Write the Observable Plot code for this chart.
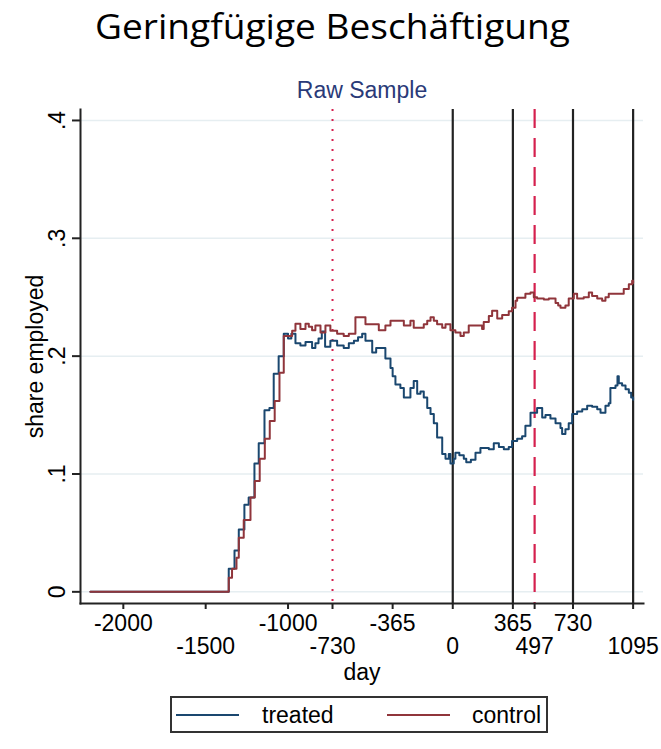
<!DOCTYPE html>
<html>
<head>
<meta charset="utf-8">
<script src="https://cdn.jsdelivr.net/npm/d3@7"></script>
<script src="https://cdn.jsdelivr.net/npm/@observablehq/plot@0.6"></script>
<style>
  body { margin: 0; background: #fff; }
  #wrap { position: relative; width: 661px; height: 749px; overflow: hidden; background: #fff;
          font-family: "Liberation Sans", Arial, sans-serif; }
  #title { position: absolute; left: 0; top: 0; width: 661px; height: 60px; }
  #title span { position: absolute; left: 95px; top: 6px; white-space: nowrap;
                font-family: "Open Sans", Lato, sans-serif; font-size: 34px; line-height: 40px;
                color: #000; transform-origin: 0 0; }
  #chart { position: absolute; left: 0; top: 60px; }
  #legend { position: absolute; left: 170px; top: 696px; width: 378px; height: 37px;
            box-sizing: border-box; border: 2px solid #333; background: #fff; }
  #legend .sw { position: absolute; top: 16px; height: 2px; width: 63px; }
  #legend .lb { position: absolute; top: 2px; font-size: 23px; line-height: 30px; color: #000; }
</style>
</head>
<body>
<div id="wrap">
  <div id="title"><span id="titleText"></span></div>
  <div id="chart"></div>
  <div id="legend"></div>
</div>
<script>
// ---------- data ----------
const titleText = "Geringfügige Beschäftigung";
const subtitleText = "Raw Sample";
const xLabel = "day";
const yLabel = "share employed";
const seriesNames = ["treated", "control"];
const seriesColors = ["#1a476f", "#90353b"];

const yTicks = [0, 0.1, 0.2, 0.3, 0.4];
const yTickLabels = ["0", ".1", ".2", ".3", ".4"];
const xTicksRow1 = [-2000, -1000, -365, 365, 730];
const xTicksRow2 = [-1500, -730, 0, 497, 1095];
const solidLines = [0, 365, 730, 1095];
const dottedLine = [-730];
const dashedLine = [497];

const treatedDay = [-2200, -1360, -1325, -1299, -1265, -1239, -1204, -1178, -1143, -1113, -1087, -1057, -1026,
  -1000, -980, -955, -925, -894, -854, -834, -815, -795, -775, -743, -702, -662, -631, -600, -575, -550, -530,
  -489, -465, -430, -409, -378, -365, -348, -318, -297, -265, -257, -237, -216, -196, -176, -155, -135, -115,
  -95, -64, -44, -24, -14, 6, 16, 40, 67, 82, 110, 138, 168, 219, 249, 280, 310, 340, 360, 391, 421, 441, 472,
  512, 543, 563, 593, 624, 654, 664, 684, 704, 725, 755, 786, 816, 846, 877, 897, 927, 947, 957, 988, 1000,
  1008, 1028, 1049, 1069, 1083, 1095];
const treatedShare = [0, 0.0195, 0.035, 0.053, 0.074, 0.080, 0.109, 0.126, 0.154, 0.156, 0.185, 0.200, 0.219,
  0.215, 0.219, 0.211, 0.209, 0.212, 0.207, 0.211, 0.215, 0.221, 0.208, 0.213, 0.209, 0.207, 0.211, 0.213, 0.216, 0.219, 0.213,
  0.203, 0.207, 0.207, 0.198, 0.190, 0.183, 0.176, 0.173, 0.165, 0.165, 0.173, 0.179, 0.168, 0.170, 0.165, 0.156, 0.151, 0.143,
  0.131, 0.117, 0.113, 0.117, 0.109, 0.113, 0.118, 0.116, 0.113, 0.110, 0.112, 0.118, 0.122, 0.121, 0.126, 0.123, 0.121, 0.123, 0.128, 0.130, 0.132, 0.141, 0.152,
  0.156, 0.148, 0.150, 0.147, 0.143, 0.139, 0.134, 0.138, 0.143, 0.151, 0.153, 0.155, 0.158, 0.157, 0.155, 0.152, 0.158, 0.160, 0.173, 0.175, 0.183,
  0.177, 0.175, 0.172, 0.169, 0.165, 0.163];

const controlDay = [-2200, -1360, -1340, -1313, -1299, -1269, -1228, -1202, -1172, -1141, -1111, -1081, -1052,
  -1026, -975, -955, -925, -894, -874, -854, -834, -803, -773, -743, -702, -662, -631, -591, -530, -489, -449,
  -409, -378, -318, -297, -257, -237, -196, -176, -155, -135, -115, -95, -64, -44, -14, 16, 47, 67, 97, 138,
  178, 188, 219, 239, 270, 300, 340, 360, 381, 391, 441, 472, 492, 512, 553, 583, 624, 640, 654, 684, 704, 735,
  755, 795, 826, 846, 877, 907, 927, 947, 988, 1038, 1069, 1089, 1095];
const controlShare = [0, 0.012, 0.0195, 0.029, 0.046, 0.061, 0.080, 0.094, 0.113, 0.130, 0.145, 0.162, 0.186,
  0.217, 0.2215, 0.2275, 0.223, 0.2275, 0.225, 0.222, 0.226, 0.220, 0.226, 0.2215, 0.219, 0.217, 0.219, 0.233, 0.227, 0.227, 0.222,
  0.226, 0.230, 0.230, 0.226, 0.230, 0.224, 0.224, 0.227, 0.230, 0.233, 0.230, 0.227, 0.224, 0.227, 0.222, 0.220, 0.217, 0.220, 0.226, 0.226,
  0.223, 0.229, 0.234, 0.2385, 0.232, 0.235, 0.238, 0.241, 0.247, 0.2495, 0.253, 0.254, 0.250, 0.249, 0.248, 0.249, 0.245, 0.243, 0.241, 0.243, 0.249, 0.253,
  0.249, 0.250, 0.254, 0.251, 0.249, 0.247, 0.250, 0.253, 0.253, 0.257, 0.261, 0.264, 0.262];

// ---------- build ----------
const rows = [
  ...treatedDay.map((d, i) => ({day: d, share: treatedShare[i], group: seriesNames[0]})),
  ...controlDay.map((d, i) => ({day: d, share: controlShare[i], group: seriesNames[1]}))
];

const FONT = "Liberation Sans, Arial, sans-serif";
const gridColor = "#e6eef1";
const refRed = "#d5204e";

const plot = Plot.plot({
  width: 661,
  height: 630,
  marginLeft: 80,
  marginRight: 18,
  marginTop: 49,
  marginBottom: 87,
  style: {fontFamily: FONT, fontSize: "23px", background: "transparent", color: "#000"},
  x: {domain: [-2260, 1158], axis: null},
  y: {domain: [-0.0099, 0.4093], axis: null},
  color: {domain: seriesNames, range: seriesColors},
  marks: [
    // gridlines
    Plot.ruleY(yTicks, {stroke: gridColor, strokeWidth: 1.5}),
    // reference lines
    Plot.ruleX(solidLines, {stroke: "#222", strokeWidth: 2.2}),
    Plot.ruleX(dottedLine, {stroke: refRed, strokeWidth: 2, strokeDasharray: "2,8"}),
    Plot.ruleX(dashedLine, {stroke: refRed, strokeWidth: 2.2, strokeDasharray: "19,10"}),
    // series
    Plot.line(rows, {x: "day", y: "share", z: "group", stroke: "group", curve: "step-after", strokeWidth: 2}),
    // axes lines
    Plot.frame({anchor: "left", stroke: "#222", strokeWidth: 2}),
    Plot.frame({anchor: "bottom", stroke: "#222", strokeWidth: 2}),
    // y axis
    Plot.axisY(yTicks, {tickSize: 8, tickFormat: () => "", label: null, stroke: "#222", strokeWidth: 2}),
    Plot.text(yTicks, {y: (d) => d, text: (d, i) => yTickLabels[i], frameAnchor: "left", dx: -23,
      rotate: -90, textAnchor: "middle", lineAnchor: "middle", fontSize: 23, fill: "#000"}),
    Plot.text([yLabel], {frameAnchor: "left", dx: -45, rotate: -90, textAnchor: "middle",
      lineAnchor: "middle", fontSize: 23, fill: "#000"}),
    // x axis
    Plot.axisX(xTicksRow1, {tickSize: 6, tickPadding: 5, label: null, fontSize: 23, stroke: "#222", strokeWidth: 2,
      tickFormat: (d) => String(d)}),
    Plot.axisX(xTicksRow2, {tickSize: 6, tickPadding: 28, label: null, fontSize: 23, stroke: "#222", strokeWidth: 2,
      tickFormat: (d) => String(d)}),
    Plot.text([xLabel], {frameAnchor: "bottom", dy: 69, lineAnchor: "middle", fontSize: 23, fill: "#000"}),
    // subtitle
    Plot.text([subtitleText], {frameAnchor: "top", dy: -19, lineAnchor: "middle", fontSize: 23, fill: "#2a3a78"})
  ]
});
document.getElementById("chart").appendChild(plot);

// title, fitted to reference width
const t = document.getElementById("titleText");
t.textContent = titleText;
const w = t.getBoundingClientRect().width;
t.style.transform = `scaleX(${475 / w})`;

// legend
const leg = document.getElementById("legend");
const items = [
  {name: seriesNames[0], color: seriesColors[0], sx: 4, tx: 90},
  {name: seriesNames[1], color: seriesColors[1], sx: 215, tx: 300}
];
for (const it of items) {
  const sw = document.createElement("div");
  sw.className = "sw"; sw.style.left = it.sx + "px"; sw.style.background = it.color;
  leg.appendChild(sw);
  const lb = document.createElement("div");
  lb.className = "lb"; lb.style.left = it.tx + "px"; lb.textContent = it.name;
  leg.appendChild(lb);
}
</script>
</body>
</html>
